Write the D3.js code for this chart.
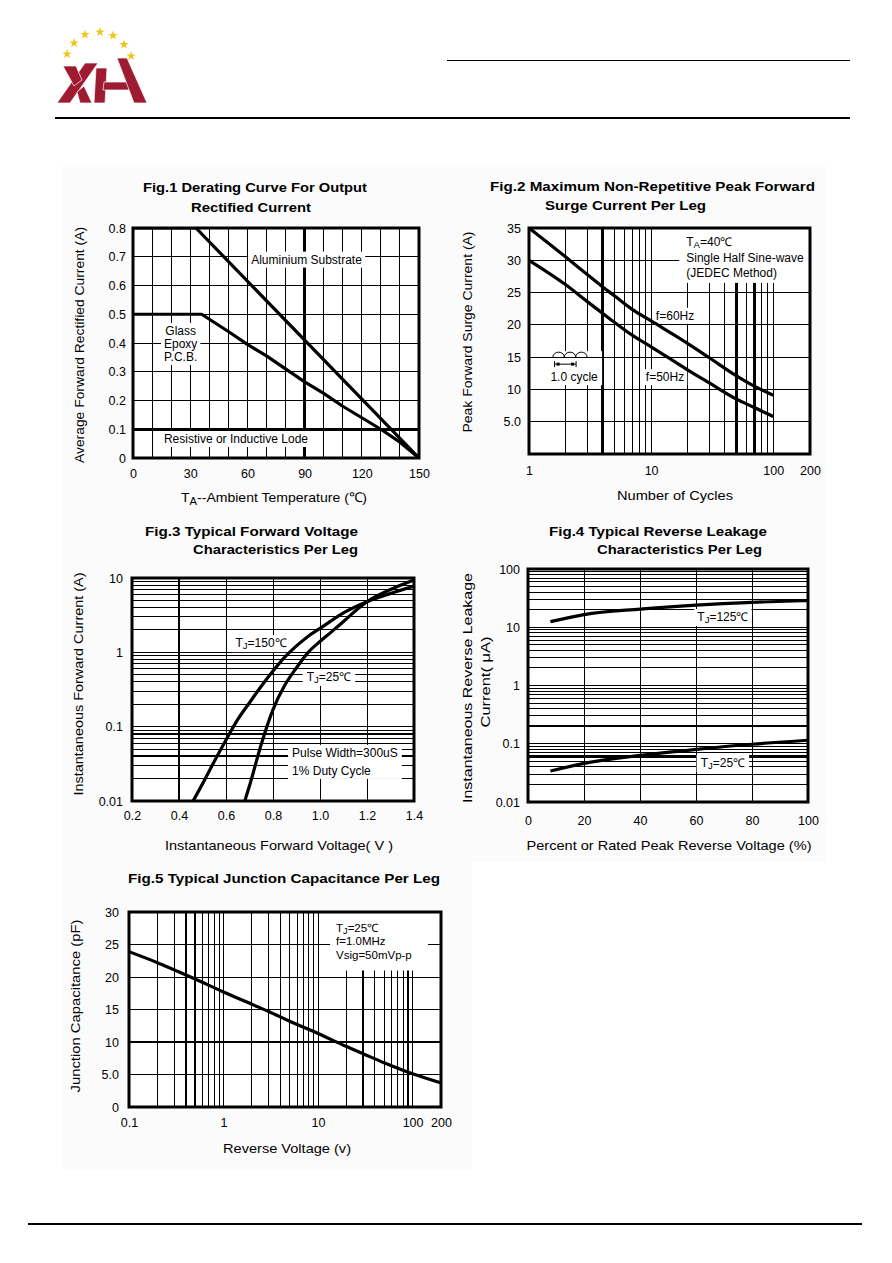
<!DOCTYPE html>
<html>
<head>
<meta charset="utf-8">
<script src="https://cdn.jsdelivr.net/npm/d3@7"></script>
<style>
  body { margin: 0; background: #fff; }
  svg { display: block; font-family: "Liberation Sans", Arial, sans-serif; }
</style>
</head>
<body>
<svg id="sheet"></svg>
<script>
// Fig.1 derating curve
var deratingTicksX = [0, 30, 60, 90, 120, 150];
var deratingTicksY = [0, 0.1, 0.2, 0.3, 0.4, 0.5, 0.6, 0.7, 0.8];
var aluminiumCurve = [[0, 0.8], [33, 0.8], [150, 0]];
var glassEpoxyCurve = [[0, 0.5], [36, 0.5], [50, 0.44], [60, 0.395], [70, 0.355], [80, 0.31], [90, 0.265],
                       [100, 0.225], [110, 0.18], [120, 0.14], [130, 0.1], [140, 0.055], [150, 0]];

// Fig.2 surge current
var surgeCycles = [1, 2, 3, 4, 5, 7, 10, 20, 30, 50, 70, 100];
var surge60Hz = [35, 30.5, 27.8, 25.9, 24.5, 22.4, 20.6, 17.1, 14.9, 12.1, 10.5, 9.1];
var surge50Hz = [30, 26.2, 23.6, 21.8, 20.4, 18.4, 16.6, 13, 11, 8.5, 7.2, 5.8];
var surgeTicksX = [1, 10, 100, 200];
var surgeTicksY = [5, 10, 15, 20, 25, 30, 35];

// Fig.3 forward voltage
var forwardTicksX = [0.2, 0.4, 0.6, 0.8, 1.0, 1.2, 1.4];
var forwardTicksY = [0.01, 0.1, 1, 10];
var forward150 = [[0.46, 0.01], [0.5, 0.017], [0.55, 0.034], [0.6, 0.066], [0.65, 0.125], [0.7, 0.21],
                  [0.75, 0.35], [0.8, 0.56], [0.85, 0.86], [0.9, 1.22], [0.95, 1.65], [1.0, 2.1],
                  [1.1, 3.4], [1.2, 4.8], [1.3, 6.2], [1.4, 7.8]];
var forward25 = [[0.68, 0.01], [0.7, 0.016], [0.75, 0.058], [0.8, 0.17], [0.85, 0.36], [0.9, 0.62],
                 [0.95, 1.0], [1.0, 1.4], [1.05, 1.9], [1.1, 2.6], [1.15, 3.6], [1.2, 4.8],
                 [1.3, 7.0], [1.4, 9.4]];

// Fig.4 reverse leakage
var leakPercent = [8, 20, 40, 60, 80, 100];
var leak125 = [12.5, 16.5, 20.5, 24, 26.8, 28.7];
var leak25 = [0.034, 0.046, 0.063, 0.08, 0.098, 0.115];
var leakTicksX = [0, 20, 40, 60, 80, 100];
var leakTicksY = [0.01, 0.1, 1, 10, 100];

// Fig.5 junction capacitance
var capVoltage = [0.1, 0.2, 0.3, 0.5, 1, 2, 3, 5, 10, 20, 30, 50, 100, 200];
var capValue = [23.9, 22.2, 21.1, 19.7, 17.7, 15.8, 14.7, 13.2, 11.3, 9.3, 8.2, 6.8, 5.1, 3.7];
var capTicksX = [0.1, 1, 10, 100, 200];
var capTicksY = [0, 5, 10, 15, 20, 25, 30];

var svg = d3.select("#sheet").attr("width", 892).attr("height", 1263);

// light panel behind the figures
svg.append("path").attr("d", "M63,165H826V862H472V1170H63Z").attr("fill", "#fbfbfb");

// header / footer rules
svg.append("line").attr("x1", 447).attr("x2", 850).attr("y1", 60.5).attr("y2", 60.5).attr("stroke", "#000").attr("stroke-width", 1);
svg.append("line").attr("x1", 55).attr("x2", 850).attr("y1", 118).attr("y2", 118).attr("stroke", "#000").attr("stroke-width", 2);
svg.append("line").attr("x1", 28).attr("x2", 862).attr("y1", 1224).attr("y2", 1224).attr("stroke", "#000").attr("stroke-width", 2);

// logo
var logo = svg.append("g");
[[67, 54], [74, 43], [85, 34.5], [100, 32], [113, 35.5], [124, 44.5], [131, 56]].forEach(function(p) {
    logo.append("path").attr("d", d3.symbol(d3.symbolStar, 28)()).attr("transform", "translate(" + p + ")").attr("fill", "#f0c419");
});
["M57,103L70,103L98,63L85,63Z", "M63,66L76,66L82,80L74,86Z", "M77,92L84,86L92,103L80,103Z",
 "M96,68L107,68L105,103L94,103Z", "M104,82L128,82L130,90L103,90Z", "M117,58L127,58L147,103L134,103Z"].forEach(function(d) {
    logo.append("path").attr("d", d).attr("fill", "#9e1b32").attr("stroke", "#fff").attr("stroke-width", 0.7);
});

function logGrid(lo, hi) {
    var out = [];
    for (var dec = lo; dec < hi; dec *= 10) {
        for (var k = 1; k <= 9; k++) {
            var v = +(dec * k).toPrecision(3);
            if (v > lo && v < hi) out.push(v);
        }
    }
    return out;
}

function isIn(list, v) {
    return list.some(function(t) { return Math.abs(t - v) < 1e-9 * Math.max(1, Math.abs(v)); });
}

function addText(sel, str) {
    // "T_J=25℃" -> T with subscript J
    var m = str.match(/^(.*?)_(.)(.*)$/);
    if (m) {
        sel.append("tspan").text(m[1]);
        sel.append("tspan").attr("font-size", "0.8em").attr("dy", 2).text(m[2]);
        sel.append("tspan").attr("dy", -2).text(m[3]);
    } else {
        sel.text(str);
    }
}

function drawFigure(o) {
    var g = svg.append("g");
    var x = o.x, y = o.y, bx = o.box;
    var clipId = "clip" + o.id;
    g.append("clipPath").attr("id", clipId).append("rect")
        .attr("x", bx.l).attr("y", bx.t).attr("width", bx.r - bx.l).attr("height", bx.b - bx.t);

    g.append("rect").attr("x", bx.l).attr("y", bx.t).attr("width", bx.r - bx.l).attr("height", bx.b - bx.t).attr("fill", "#fff");

    var gGrid = g.append("g").attr("shape-rendering", "crispEdges");
    var gMask = g.append("g");
    var gCurve = g.append("g").attr("clip-path", "url(#" + clipId + ")");
    var gText = g.append("g").attr("font-size", 12);

    gGrid.selectAll(null).data(o.gridX).join("line")
        .attr("x1", function(d) { return x(d); }).attr("x2", function(d) { return x(d); })
        .attr("y1", bx.t).attr("y2", bx.b)
        .attr("stroke", "#000").attr("stroke-width", function(d) { return isIn(o.thickX, d) ? 2.5 : 1; });
    gGrid.selectAll(null).data(o.gridY).join("line")
        .attr("y1", function(d) { return y(d); }).attr("y2", function(d) { return y(d); })
        .attr("x1", bx.l).attr("x2", bx.r)
        .attr("stroke", "#000").attr("stroke-width", function(d) { return isIn(o.thickY, d) ? 2.5 : 1; });

    (o.masks || []).forEach(function(m) {
        gMask.append("rect")
            .attr("x", x(m[0])).attr("y", y(m[3]))
            .attr("width", x(m[2]) - x(m[0])).attr("height", y(m[1]) - y(m[3]))
            .attr("fill", "#fff");
    });

    var line = d3.line()
        .x(function(d) { return x(d[0]); })
        .y(function(d) { return y(d[1]); })
        .curve(o.curveType || d3.curveMonotoneX);
    o.curves.forEach(function(c) {
        gCurve.append("path").attr("d", line(c)).attr("fill", "none")
            .attr("stroke", "#000").attr("stroke-width", 3.2).attr("stroke-linejoin", "round");
    });

    o.labels.forEach(function(lb) {
        var lg = gText.append("g");
        if (lb.size) lg.attr("font-size", lb.size);
        var gap = lb.gap || 14;
        lb.lines.forEach(function(str, i) {
            var t = lg.append("text")
                .attr("x", x(lb.x)).attr("y", y(lb.y) + 4 + i * gap)
                .attr("text-anchor", lb.anchor || "middle");
            addText(t, str);
        });
        if (lb.extra) lb.extra(lg);
        var bb = lg.node().getBBox();
        var p = lb.pad == null ? 3 : lb.pad;
        gMask.append("rect").attr("x", bb.x - p).attr("y", bb.y - 1)
            .attr("width", bb.width + 2 * p).attr("height", bb.height + 2).attr("fill", "#fff");
        if (lb.after) lb.after(lg, bb);
    });

    g.append("rect").attr("x", bx.l).attr("y", bx.t).attr("width", bx.r - bx.l).attr("height", bx.b - bx.t)
        .attr("fill", "none").attr("stroke", "#000").attr("stroke-width", 3);

    var ax = g.append("g").attr("transform", "translate(0," + bx.b + ")")
        .call(d3.axisBottom(x).tickValues(o.ticksX).tickFormat(o.fmtX).tickSize(0).tickPadding(o.padX));
    var ay = g.append("g").attr("transform", "translate(" + bx.l + ",0)")
        .call(d3.axisLeft(y).tickValues(o.ticksY).tickFormat(o.fmtY).tickSize(0).tickPadding(o.padY));
    [ax, ay].forEach(function(a) {
        a.select(".domain").remove();
        a.attr("font-family", null).attr("font-size", 12.5);
        a.selectAll("text").attr("fill", "#000");
    });

    o.titles.forEach(function(t) {
        svg.append("text").attr("x", t.x).attr("y", t.y).attr("font-size", 13.5).attr("font-weight", "bold")
            .attr("textLength", t.len).attr("lengthAdjust", "spacingAndGlyphs").text(t.text);
    });
    o.axisTitles.forEach(function(t) {
        var tx = svg.append("text").attr("font-size", 13.5).attr("text-anchor", "middle")
            .attr("textLength", t.len).attr("lengthAdjust", "spacingAndGlyphs");
        if (t.rot) tx.attr("transform", "translate(" + t.x + "," + t.y + ") rotate(-90)");
        else tx.attr("x", t.x).attr("y", t.y);
        if (t.sub) {
            tx.append("tspan").text(t.text[0]);
            tx.append("tspan").attr("font-size", "0.8em").attr("dy", 3).text(t.text[1]);
            tx.append("tspan").attr("dy", -3).text(t.text[2]);
        } else {
            tx.text(t.text);
        }
    });
}

var fmt1 = function(d) { return d === 0 ? "0" : d3.format(".1f")(d); };
var fmtPlain = function(d) { return String(d); };

// ---- Fig.1 ----
var b1 = {l: 133, t: 228, r: 419, b: 458};
drawFigure({
    id: 1, box: b1,
    x: d3.scaleLinear().domain([0, 150]).range([b1.l, b1.r]),
    y: d3.scaleLinear().domain([0, 0.8]).range([b1.b, b1.t]),
    gridX: d3.range(10, 150, 10), thickX: [90],
    gridY: [0.1, 0.2, 0.3, 0.4, 0.5, 0.6, 0.7], thickY: [0.1],
    curveType: d3.curveLinear,
    curves: [aluminiumCurve, glassEpoxyCurve],
    labels: [
        {lines: ["Aluminium Substrate"], x: 91, y: 0.69},
        {lines: ["Glass", "Epoxy", "P.C.B."], x: 25, y: 0.442, gap: 13},
        {lines: ["Resistive or Inductive Lode"], x: 54, y: 0.066}
    ],
    ticksX: deratingTicksX, fmtX: fmtPlain, padX: 11,
    ticksY: deratingTicksY, fmtY: fmt1, padY: 7,
    titles: [
        {text: "Fig.1 Derating Curve For Output", x: 143, y: 192, len: 224},
        {text: "Rectified Current", x: 191, y: 212, len: 120}
    ],
    axisTitles: [
        {text: ["T", "A", "--Ambient Temperature (℃)"], sub: true, x: 274, y: 502, len: 186},
        {text: "Average Forward Rectified Current (A)", rot: true, x: 84, y: 345, len: 236}
    ]
});

// ---- Fig.2 ----
var b2 = {l: 529, t: 228, r: 810, b: 454};
var x2 = d3.scaleLog().domain([1, 200]).range([b2.l, b2.r]);
var y2 = d3.scaleLinear().domain([0, 35]).range([b2.b, b2.t]);
drawFigure({
    id: 2, box: b2, x: x2, y: y2,
    gridX: logGrid(1, 200).filter(function(v) { return v <= 100; }), thickX: [4, 50, 70],
    gridY: [5, 10, 15, 20, 25, 30], thickY: [],
    masks: [[17, 26.5, 200, 35]],
    curves: [surgeCycles.map(function(c, i) { return [c, surge60Hz[i]]; }),
             surgeCycles.map(function(c, i) { return [c, surge50Hz[i]]; })],
    labels: [
        {lines: ["T_A=40℃", "Single Half Sine-wave", "(JEDEC Method)"], x: 19.4, y: 32.8, anchor: "start", gap: 15.5, pad: 0},
        {lines: ["f=60Hz"], x: 15.7, y: 21.4},
        {lines: ["f=50Hz"], x: 13, y: 11.9},
        {lines: ["1.0 cycle"], x: 2.34, y: 11.9, pad: 4,
         extra: function(lg) {
             var x0 = x2(1.57), x1 = x2(2.99), w = (x1 - x0) / 3, yb = y2(15);
             var d = "M" + x0 + "," + yb;
             for (var i = 1; i <= 3; i++) d += "A" + (w / 2) + ",5 0 0 1 " + (x0 + w * i) + "," + yb;
             lg.append("path").attr("d", d).attr("fill", "none").attr("stroke", "#000").attr("stroke-width", 1);
             var xa = x2(1.62), xb = x2(2.43), ya = yb + 7;
             lg.append("path").attr("d", "M" + xa + "," + (ya - 3) + "V" + (ya + 3) + "M" + xa + "," + ya + "H" + xb + "M" + xb + "," + (ya - 3) + "V" + (ya + 3))
                 .attr("stroke", "#000").attr("stroke-width", 1);
             lg.append("rect").attr("x", xa + 2).attr("y", ya - 1.5).attr("width", 3).attr("height", 3);
             lg.append("rect").attr("x", xb - 5).attr("y", ya - 1.5).attr("width", 3).attr("height", 3);
         },
         after: function(lg, bb) {
             lg.insert("line", ":first-child").attr("x1", bb.x - 4).attr("x2", bb.x + bb.width + 4)
                 .attr("y1", y2(15)).attr("y2", y2(15)).attr("stroke", "#000").attr("stroke-width", 1)
                 .attr("shape-rendering", "crispEdges");
         }}
    ],
    ticksX: surgeTicksX, fmtX: fmtPlain, padX: 12,
    ticksY: surgeTicksY, fmtY: function(d) { return d === 5 ? "5.0" : String(d); }, padY: 8,
    titles: [
        {text: "Fig.2 Maximum Non-Repetitive Peak Forward", x: 490, y: 191, len: 325},
        {text: "Surge Current Per Leg", x: 545, y: 210, len: 161}
    ],
    axisTitles: [
        {text: "Number of Cycles", x: 675, y: 500, len: 116},
        {text: "Peak Forward Surge Current (A)", rot: true, x: 472, y: 332, len: 201}
    ]
});

// ---- Fig.3 ----
var b3 = {l: 132, t: 578, r: 414, b: 801};
drawFigure({
    id: 3, box: b3,
    x: d3.scaleLinear().domain([0.2, 1.4]).range([b3.l, b3.r]),
    y: d3.scaleLog().domain([0.01, 10]).range([b3.b, b3.t]),
    gridX: [0.4, 0.6, 0.8, 1.0, 1.2], thickX: [0.4],
    gridY: logGrid(0.01, 10), thickY: [0.08, 0.04],
    curves: [forward150, forward25],
    labels: [
        {lines: ["T_J=150℃"], x: 0.749, y: 1.33},
        {lines: ["T_J=25℃"], x: 1.038, y: 0.466, pad: 4},
        {lines: ["Pulse Width=300uS", "1% Duty Cycle"], x: 0.881, y: 0.0443, anchor: "start", gap: 18, pad: 4}
    ],
    ticksX: forwardTicksX, fmtX: d3.format(".1f"), padX: 10,
    ticksY: forwardTicksY, fmtY: fmtPlain, padY: 9,
    titles: [
        {text: "Fig.3 Typical Forward Voltage", x: 145, y: 536, len: 213},
        {text: "Characteristics Per Leg", x: 193, y: 554, len: 165}
    ],
    axisTitles: [
        {text: "Instantaneous Forward Voltage( V )", x: 279, y: 850, len: 228},
        {text: "Instantaneous Forward Current (A)", rot: true, x: 83, y: 684, len: 223}
    ]
});

// ---- Fig.4 ----
var b4 = {l: 528, t: 569, r: 808, b: 802};
drawFigure({
    id: 4, box: b4,
    x: d3.scaleLinear().domain([0, 100]).range([b4.l, b4.r]),
    y: d3.scaleLog().domain([0.01, 100]).range([b4.b, b4.t]),
    gridX: [20, 40, 60, 80], thickX: [],
    gridY: logGrid(0.01, 100), thickY: [0.2, 0.06],
    curves: [leakPercent.map(function(p, i) { return [p, leak125[i]]; }),
             leakPercent.map(function(p, i) { return [p, leak25[i]]; })],
    labels: [
        {lines: ["T_J=125℃"], x: 69.6, y: 15},
        {lines: ["T_J=25℃"], x: 69.6, y: 0.0467, pad: 4}
    ],
    ticksX: leakTicksX, fmtX: fmtPlain, padX: 14,
    ticksY: leakTicksY, fmtY: fmtPlain, padY: 8,
    titles: [
        {text: "Fig.4 Typical Reverse Leakage", x: 549, y: 536, len: 218},
        {text: "Characteristics Per Leg", x: 597, y: 554, len: 165}
    ],
    axisTitles: [
        {text: "Percent or Rated Peak Reverse Voltage (%)", x: 669, y: 850, len: 285},
        {text: "Instantaneous Reverse Leakage", rot: true, x: 472, y: 688, len: 230},
        {text: "Current( μA)", rot: true, x: 490, y: 682, len: 91}
    ]
});

// ---- Fig.5 ----
var b5 = {l: 129, t: 912, r: 441, b: 1107};
drawFigure({
    id: 5, box: b5,
    x: d3.scaleLog().domain([0.1, 200]).range([b5.l, b5.r]),
    y: d3.scaleLinear().domain([0, 30]).range([b5.b, b5.t]),
    gridX: logGrid(0.1, 200).filter(function(v) { return v <= 100; }), thickX: [0.4, 0.5, 30, 90],
    gridY: [5, 10, 15, 20, 25], thickY: [10],
    masks: [[13.4, 21, 146, 30]],
    curves: [capVoltage.map(function(v, i) { return [v, capValue[i]]; })],
    labels: [
        {lines: ["T_J=25℃", "f=1.0MHz", "Vsig=50mVp-p"], x: 15.5, y: 27.6, anchor: "start", gap: 13.5, pad: 0, size: 11.5}
    ],
    ticksX: capTicksX, fmtX: fmtPlain, padX: 11,
    ticksY: capTicksY, fmtY: function(d) { return d === 5 ? "5.0" : String(d); }, padY: 10,
    titles: [
        {text: "Fig.5 Typical Junction Capacitance Per Leg", x: 128, y: 883, len: 312}
    ],
    axisTitles: [
        {text: "Reverse Voltage (v)", x: 287, y: 1153, len: 128},
        {text: "Junction Capacitance (pF)", rot: true, x: 80, y: 1006, len: 173}
    ]
});
</script>
</body>
</html>
